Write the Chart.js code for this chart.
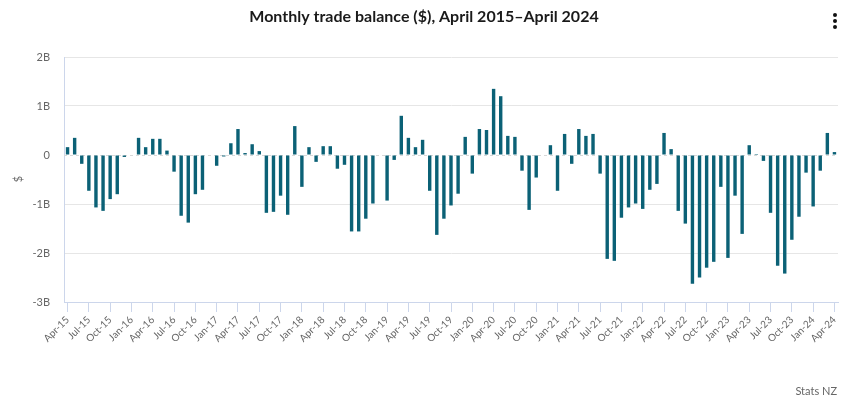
<!DOCTYPE html>
<html>
<head>
<meta charset="utf-8">
<script src="https://cdn.jsdelivr.net/npm/chart.js@4/dist/chart.umd.min.js"></script>
<style>
  html, body { margin: 0; padding: 0; background: #fff; }
  #wrap { width: 848px; height: 400px; }
</style>
</head>
<body>
<div id="wrap"><canvas id="tradeChart" width="848" height="400"></canvas></div>
<script>
// months Apr-15 .. Apr-24
var months = ['Jan', 'Feb', 'Mar', 'Apr', 'May', 'Jun', 'Jul', 'Aug', 'Sep', 'Oct', 'Nov', 'Dec'];
var startYear = 2015, startMonth = 3, monthCount = 109;

// monthly trade balance, $ billions
var balance = [
  0.16, 0.35, -0.18, -0.73, -1.07, -1.14, -0.90, -0.80, -0.04,
  0.00, 0.35, 0.16, 0.33, 0.33, 0.09, -0.34, -1.24, -1.38, -0.80, -0.71, 0.00,
  -0.22, -0.03, 0.24, 0.53, 0.04, 0.22, 0.08, -1.18, -1.16, -0.83, -1.22, 0.59,
  -0.65, 0.16, -0.14, 0.18, 0.18, -0.28, -0.20, -1.56, -1.56, -1.30, -0.99, 0.00,
  -0.93, -0.10, 0.80, 0.35, 0.16, 0.31, -0.73, -1.63, -1.30, -1.03, -0.79, 0.37,
  -0.38, 0.53, 0.51, 1.35, 1.20, 0.39, 0.37, -0.32, -1.12, -0.46, 0.00, 0.20,
  -0.73, 0.43, -0.18, 0.53, 0.39, 0.43, -0.38, -2.12, -2.16, -1.28, -1.07, -0.99,
  -1.10, -0.71, -0.59, 0.45, 0.12, -1.14, -1.40, -2.63, -2.50, -2.30, -2.18, -0.65,
  -2.10, -0.83, -1.61, 0.20, 0.02, -0.12, -1.18, -2.26, -2.42, -1.73, -1.26, -0.36,
  -1.05, -0.32, 0.45, 0.06
];

var yTicks = [-3, -2, -1, 0, 1, 2];

var labels = [];
for (var i = 0; i < monthCount; i++) {
  var m = (startMonth + i) % 12;
  var y = startYear + Math.floor((startMonth + i) / 12);
  labels.push(months[m] + '-' + String(y).slice(2));
}

var font = 'Lato, "Open Sans", sans-serif';

var extras = {
  id: 'extras',
  beforeDatasetsDraw: function (chart) {
    var c = chart.ctx, a = chart.chartArea, y0 = chart.scales.y.getPixelForValue(0);
    c.save();
    c.strokeStyle = '#d8d8d8';
    c.lineWidth = 1;
    c.setLineDash([3, 3]);
    c.beginPath();
    c.moveTo(a.left, Math.round(y0) + 0.5);
    c.lineTo(a.right, Math.round(y0) + 0.5);
    c.stroke();
    c.restore();
  },
  afterDraw: function (chart) {
    var c = chart.ctx;
    c.save();
    c.fillStyle = '#1a1a1a';
    c.font = 'bold 16px ' + font;
    c.textAlign = 'center';
    c.textBaseline = 'middle';
    c.fillText('Monthly trade balance ($), April 2015\u2013April 2024', 424, 17);

    // menu dots
    c.fillStyle = '#111';
    [15, 21, 27].forEach(function (yy) {
      c.beginPath();
      c.arc(835, yy, 2, 0, Math.PI * 2);
      c.fill();
    });

    c.fillStyle = '#666';
    c.font = '11px ' + font;
    c.textAlign = 'right';
    c.fillText('Stats NZ', 837, 391);

    // y axis title
    c.translate(18, 179);
    c.rotate(-Math.PI / 2);
    c.textAlign = 'center';
    c.fillText('$', 0, 0);
    c.restore();
  }
};

new Chart(document.getElementById('tradeChart'), {
  type: 'bar',
  data: {
    labels: labels,
    datasets: [{
      label: 'Trade balance',
      data: balance,
      backgroundColor: '#0b6176',
      barPercentage: 0.48,
      categoryPercentage: 1
    }]
  },
  options: {
    responsive: false,
    animation: false,
    layout: { padding: { top: 57, right: 10, left: 0, bottom: 0 } },
    plugins: { legend: { display: false }, tooltip: { enabled: false } },
    scales: {
      x: {
        afterFit: function (s) { s.height = 98; },
        grid: {
          offset: false,
          drawOnChartArea: false,
          tickLength: 10,
          color: function (ctx) { return ctx.index % 3 === 0 ? '#ccd6eb' : 'rgba(0,0,0,0)'; }
        },
        border: { display: true, color: '#ccd6eb' },
        ticks: {
          autoSkip: false,
          maxRotation: 45,
          minRotation: 45,
          padding: 2,
          color: '#666',
          font: { family: font, size: 10 },
          callback: function (v, i) { return i % 3 === 0 ? labels[i] : ''; }
        }
      },
      y: {
        min: -3,
        max: 2,
        afterFit: function (s) { s.width = 64; },
        afterBuildTicks: function (s) { s.ticks = yTicks.map(function (v) { return { value: v }; }); },
        grid: {
          drawTicks: false,
          color: function (ctx) { return ctx.tick && ctx.tick.value === 0 ? 'rgba(0,0,0,0)' : '#e6e6e6'; }
        },
        border: { display: true, color: '#ccd6eb' },
        ticks: {
          padding: 14,
          color: '#666',
          font: { family: font, size: 11 },
          callback: function (v) { return v === 0 ? '0' : v + 'B'; }
        }
      }
    }
  },
  plugins: [extras]
});
</script>
</body>
</html>
